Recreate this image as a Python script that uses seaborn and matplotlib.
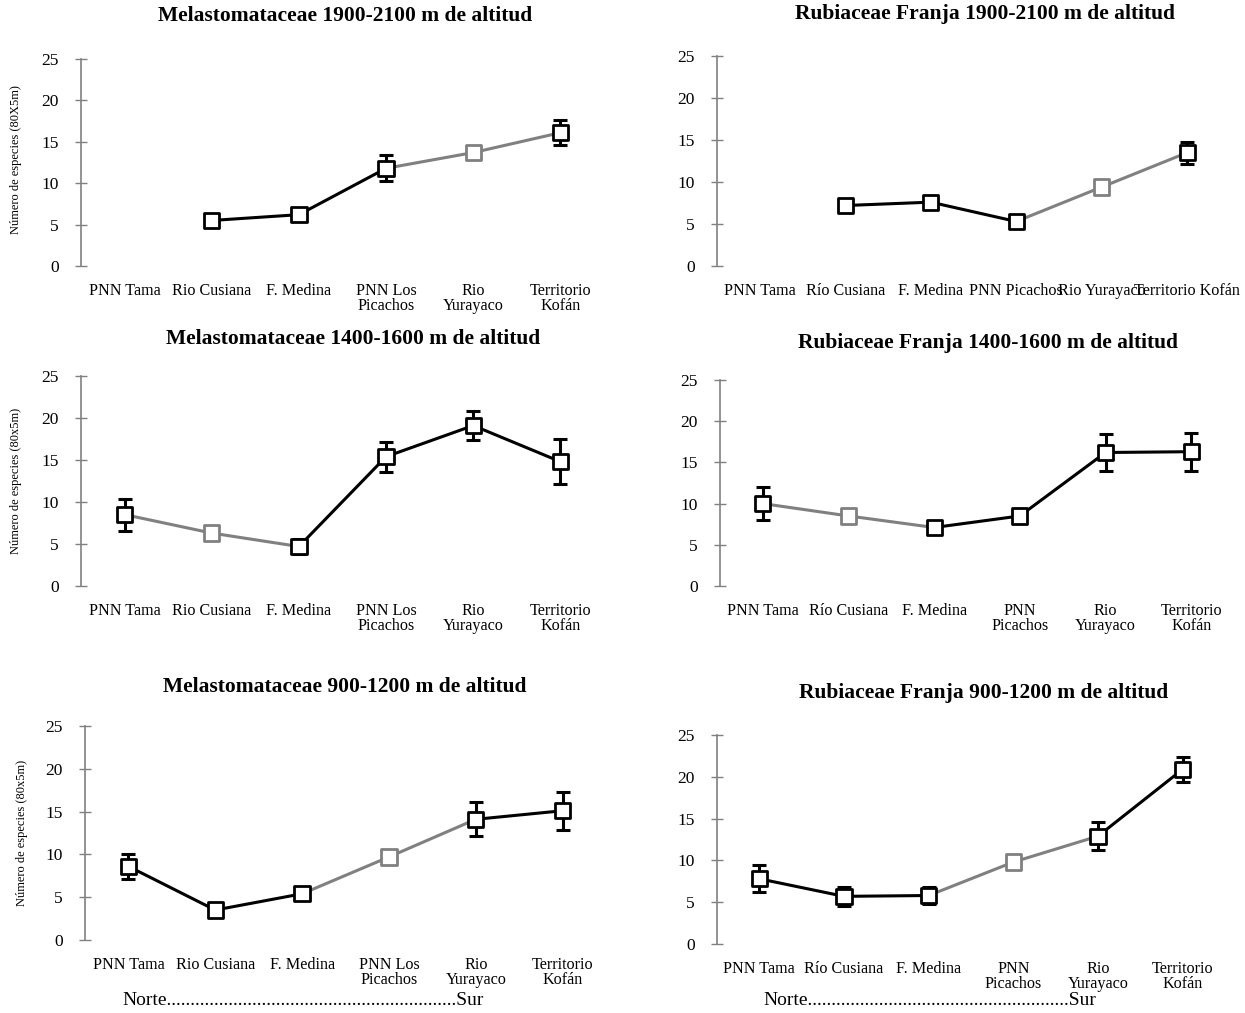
import numpy as np
import pandas as pd
import matplotlib
matplotlib.use("Agg")
import matplotlib.pyplot as plt
import seaborn as sns

# categorias (norte -> sur)
sitios_melas = ["PNN Tama", "Rio Cusiana", "F. Medina", "PNN Los\nPicachos", "Rio\nYurayaco", "Territorio\nKofán"]
sitios_rubi_1900 = ["PNN Tama", "Río Cusiana", "F. Medina", "PNN Picachos", "Rio Yurayaco", "Territorio Kofán"]
sitios_rubi = ["PNN Tama", "Río Cusiana", "F. Medina", "PNN\nPicachos", "Rio\nYurayaco", "Territorio\nKofán"]

# numero medio de especies y error (nan = sin dato / sin barra)
melas_1900 = [np.nan, 5.5, 6.2, 11.8, 13.7, 16.1]
melas_1900_err = [np.nan, 0.3, 0.3, 1.55, np.nan, 1.5]
rubi_1900 = [np.nan, 7.2, 7.6, 5.3, 9.4, 13.5]
rubi_1900_err = [np.nan, 0.6, 0.5, 0.8, np.nan, 1.3]

melas_1400 = [8.5, 6.3, 4.7, 15.4, 19.1, 14.8]
melas_1400_err = [1.9, np.nan, 0.9, 1.8, 1.7, 2.7]
rubi_1400 = [10.0, 8.5, 7.1, 8.5, 16.2, 16.3]
rubi_1400_err = [2.0, np.nan, 0.65, 0.9, 2.3, 2.3]

melas_900 = [8.6, 3.5, 5.4, 9.7, 14.1, 15.1]
melas_900_err = [1.5, 0.3, 0.3, np.nan, 2.0, 2.2]
rubi_900 = [7.8, 5.7, 5.8, 9.8, 12.9, 20.9]
rubi_900_err = [1.6, 1.1, 1.0, np.nan, 1.7, 1.5]

sns.set_theme(style="white")
plt.rcParams["font.family"] = ["Liberation Serif", "DejaVu Serif"]
plt.rcParams["text.color"] = "black"

NEGRO = "#000000"
GRIS = "#808080"


def panel(ax, sitios, media, err):
    media = np.array(media, dtype=float)
    err = np.array(err, dtype=float)
    x = np.arange(len(media))
    gris = ~np.isnan(media) & np.isnan(err)

    filas = []
    for i in range(len(media) - 1):
        if np.isnan(media[i]) or np.isnan(media[i + 1]):
            continue
        tipo = "gris" if (gris[i] or gris[i + 1]) else "negro"
        filas.append((i, i, media[i], tipo))
        filas.append((i, i + 1, media[i + 1], tipo))
    tramos = pd.DataFrame(filas, columns=["tramo", "x", "y", "tipo"])
    sns.lineplot(data=tramos, x="x", y="y", hue="tipo", units="tramo", estimator=None,
                 palette={"negro": NEGRO, "gris": GRIS}, linewidth=2.2, legend=False,
                 ax=ax, zorder=2)

    ok = ~np.isnan(err)
    ax.errorbar(x[ok], media[ok], yerr=err[ok], fmt="none", ecolor=NEGRO,
                elinewidth=2.2, capsize=5, capthick=2.2, zorder=3)

    pts = pd.DataFrame({"x": x, "y": media}).dropna()
    bordes = [GRIS if gris[i] else NEGRO for i in pts.index]
    sns.scatterplot(data=pts, x="x", y="y", marker="s", s=120, color="white",
                    edgecolor=bordes, linewidth=2, ax=ax, zorder=4, clip_on=False)

    ax.set_xlim(-0.5, len(media) - 0.5)
    ax.set_ylim(0, 25)
    ax.set_yticks([0, 5, 10, 15, 20, 25])
    ax.set_xticks(x)
    ax.set_xticklabels(sitios, fontsize=11.6, linespacing=0.95)
    ax.tick_params(axis="x", length=0, pad=12, labelcolor="black")
    ax.tick_params(axis="y", length=8, width=1, color=GRIS, direction="inout",
                   labelsize=12.5, pad=12, left=True, labelcolor="black")
    for s in ["top", "right", "bottom"]:
        ax.spines[s].set_visible(False)
    ax.spines["left"].set_color(GRIS)
    ax.spines["left"].set_linewidth(1.2)
    ax.set_xlabel("")
    ax.set_ylabel("")
    ax.patch.set_alpha(0)


W, H = 1245, 1013
fig = plt.figure(figsize=(W / 100, H / 100), dpi=100)


def caja(x0, x1, ytop, ybot):
    return [x0 / W, 1 - ybot / H, (x1 - x0) / W, (ybot - ytop) / H]


ax1 = fig.add_axes(caja(81, 604, 59, 266))
ax2 = fig.add_axes(caja(717, 1230, 56, 266))
ax3 = fig.add_axes(caja(81, 604, 376, 586))
ax4 = fig.add_axes(caja(720, 1234, 380, 586))
ax5 = fig.add_axes(caja(85, 606, 726, 940))
ax6 = fig.add_axes(caja(717, 1225, 735, 944))

panel(ax1, sitios_melas, melas_1900, melas_1900_err)
panel(ax2, sitios_rubi_1900, rubi_1900, rubi_1900_err)
panel(ax3, sitios_melas, melas_1400, melas_1400_err)
panel(ax4, sitios_rubi, rubi_1400, rubi_1400_err)
panel(ax5, sitios_melas, melas_900, melas_900_err)
panel(ax6, sitios_rubi, rubi_900, rubi_900_err)

titulos = [
    ("Melastomataceae 1900-2100 m de altitud", 345, 16),
    ("Rubiaceae Franja 1900-2100 m de altitud", 985, 14),
    ("Melastomataceae 1400-1600 m de altitud", 353, 339),
    ("Rubiaceae Franja 1400-1600 m de altitud", 988, 343),
    ("Melastomataceae 900-1200 m de altitud", 345, 687),
    ("Rubiaceae Franja 900-1200 m de altitud", 984, 693),
]
for txt, px, py in titulos:
    fig.text(px / W, 1 - py / H, txt, ha="center", va="center",
             fontsize=15.5, fontweight="bold")

for txt, px, py in [("Número de especies (80X5m)", 16, 160),
                    ("Número de especies (80x5m)", 16, 481),
                    ("Número de especies (80x5m)", 22, 833)]:
    fig.text(px / W, 1 - py / H, txt, rotation=90, ha="center", va="center",
             fontsize=9)

fig.text(122 / W, 1 - 1000 / H, "Norte" + "." * 61 + "Sur", ha="left",
         va="center", fontsize=14)
fig.text(763 / W, 1 - 1000 / H, "Norte" + "." * 55 + "Sur", ha="left",
         va="center", fontsize=14)

fig.savefig("out.png", dpi=100, facecolor="white")
